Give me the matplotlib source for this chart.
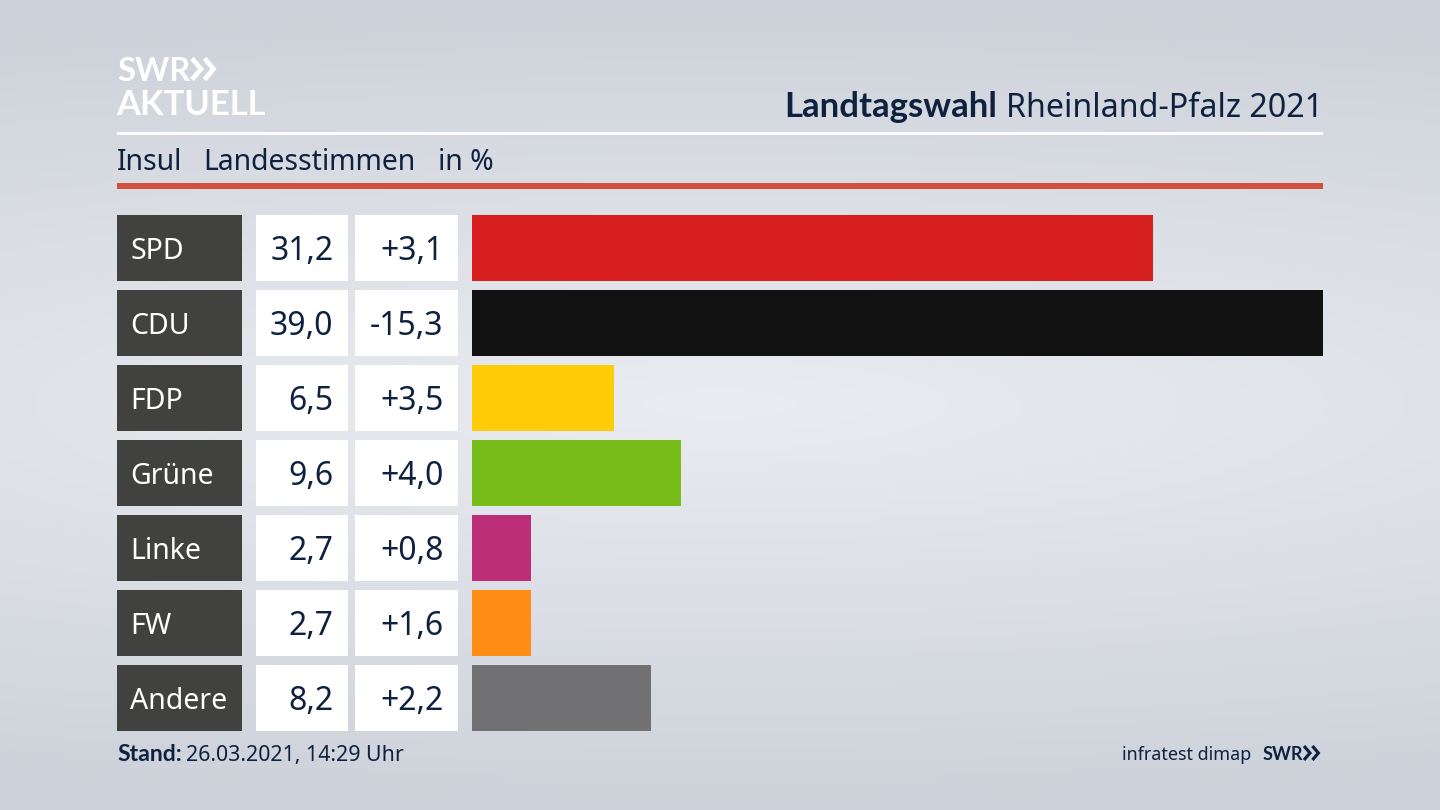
import numpy as np
import matplotlib
matplotlib.use("Agg")
import matplotlib.pyplot as plt
import matplotlib.patches as patches

parties=["SPD","CDU","FDP","Grüne","Linke","FW","Andere"]
values=[31.2,39.0,6.5,9.6,2.7,2.7,8.2]
changes=["+3,1","-15,3","+3,5","+4,0","+0,8","+1,6","+2,2"]
colors=["#d71f1f","#121212","#ffcc07","#78bc1a","#bc2e78","#ff8c14","#717173"]
navy="#0e2240"
plt.rcParams["font.family"]=["Noto Sans","DejaVu Sans"]
BOLD=["Lato","DejaVu Sans"]

fig=plt.figure(figsize=(14.4,8.1),dpi=100)
bg=fig.add_axes([0,0,1,1])
bg.set_xlim(0,1440)
bg.set_ylim(810,0)
bg.axis("off")

# background, light band in the middle
yy=np.abs(np.linspace(-1,1,200))[:,None]
xx=np.abs(np.linspace(-1,1,300))[None,:]
r=np.clip(np.sqrt((yy*1.0)**2+(xx*0.35)**2),0,1)
c0=np.array([234,236,241])/255
c1=np.array([205,209,217])/255
img=c0+(c1-c0)*r[:,:,None]
bg.imshow(img,extent=(0,1440,810,0),aspect="auto",zorder=0)

bg.add_patch(patches.Rectangle((117,132),1206,3,fc="white",ec="none"))
bg.add_patch(patches.Rectangle((117,183),1206,6,fc="#d2503c",ec="none"))

def chevrons(x,y,size,col,lw):
    # logo arrows
    for dx in (0,size*1.2):
        bg.plot([x+dx,x+dx+size*0.85,x+dx],[y-size,y,y+size],color=col,lw=lw,solid_joinstyle="miter",solid_capstyle="butt",zorder=3)

bg.text(117,81,"SWR",fontsize=23.5,family=BOLD,fontweight="bold",color="white",va="baseline",ha="left")
chevrons(192,69,10.5,"white",3.4)
bg.text(116,115,"AKTUELL",fontsize=24.8,family=BOLD,fontweight="bold",color="white",va="baseline",ha="left")

t=bg.text(1323,117,"Rheinland-Pfalz 2021",fontsize=23.2,color=navy,va="baseline",ha="right")
fig.canvas.draw()
box=t.get_window_extent()
bg.text(box.x0-9,117,"Landtagswahl",fontsize=25,family=BOLD,fontweight="bold",color=navy,va="baseline",ha="right")

bg.text(117,170,"Insul",fontsize=20.4,color=navy,va="baseline")
bg.text(203.5,170,"Landesstimmen",fontsize=20.4,color=navy,va="baseline")
bg.text(438,170,"in %",fontsize=20.4,color=navy,va="baseline")

bg.text(117,761,"Stand:",fontsize=16.6,family=BOLD,fontweight="bold",color=navy,va="baseline")
bg.text(186,761,"26.03.2021, 14:29 Uhr",fontsize=15.4,color=navy,va="baseline")
bg.text(1251,760,"infratest dimap",fontsize=12.9,color=navy,va="baseline",ha="right")
bg.text(1263,760,"SWR",fontsize=13,family=BOLD,fontweight="bold",color=navy,va="baseline")
chevrons(1304,753,7,navy,2.3)

# bars
ax=fig.add_axes([472/1440,0,851/1440,1])
ax.set_xlim(0,39.0)
ax.set_ylim(810,0)
ax.axis("off")
ax.patch.set_alpha(0)
tops=[215,290,365,440,515,590,665]
h=66.4
ax.barh([y+h/2 for y in tops],values,height=h,color=colors,linewidth=0)

for y,p,v,d in zip(tops,parties,values,changes):
    bg.add_patch(patches.Rectangle((117,y),125,h,fc="#41413f",ec="none"))
    bg.add_patch(patches.Rectangle((256,y),92,h,fc="white",ec="none"))
    bg.add_patch(patches.Rectangle((355,y),103,h,fc="white",ec="none"))
    bg.text(130,y+44,p,fontsize=20.5,color="white",va="baseline")
    bg.text(333.5,y+45,f"{v:.1f}".replace(".",","),fontsize=23,color=navy,va="baseline",ha="right")
    bg.text(443.5,y+45,d,fontsize=23,color=navy,va="baseline",ha="right")

fig.savefig("out.png",dpi=100)
